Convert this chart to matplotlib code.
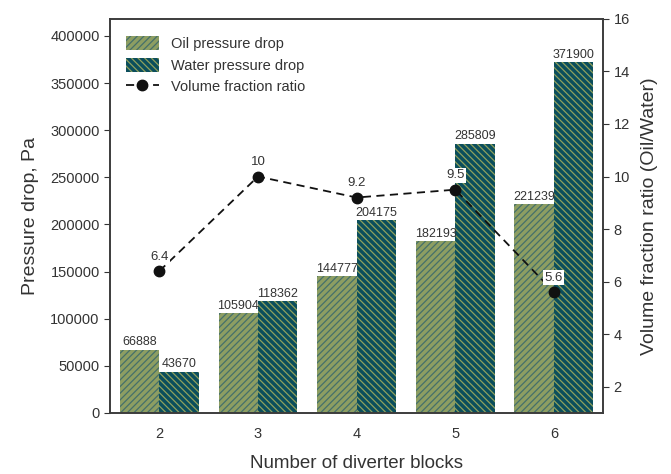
import matplotlib
matplotlib.use("Agg")
import matplotlib.pyplot as plt
import numpy as np

plt.rcParams['font.family'] = ['Liberation Sans', 'DejaVu Sans']
plt.rcParams['hatch.linewidth'] = 0.9

# data
blocks = [2, 3, 4, 5, 6]
oil_dp = [66888, 105904, 144777, 182193, 221239]
water_dp = [43670, 118362, 204175, 285809, 371900]
vol_ratio = [6.4, 10, 9.2, 9.5, 5.6]

oil_fill = '#8d9e62'
oil_hatch = '#45706a'
water_fill = '#0b4e5c'
water_hatch = '#8fa05d'
txt = '#333333'
spine = '#3c3c3c'

fig, ax = plt.subplots(figsize=(6.71, 4.74), dpi=100)
fig.subplots_adjust(left=0.164, right=0.899, top=0.96, bottom=0.129)

x = np.array(blocks, dtype=float)
w = 0.4
b1 = ax.bar(x - w/2, oil_dp, w, color=oil_fill, edgecolor=oil_hatch, linewidth=0,
            hatch='/////', label='Oil pressure drop')
b2 = ax.bar(x + w/2, water_dp, w, color=water_fill, edgecolor=water_hatch, linewidth=0,
            hatch='\\\\\\\\\\', label='Water pressure drop')

for bars, vals in [(b1, oil_dp), (b2, water_dp)]:
    for r, v in zip(bars, vals):
        ax.annotate(str(v), (r.get_x() + r.get_width()/2, v), xytext=(0, 1),
                    textcoords='offset points', ha='center', va='bottom',
                    fontsize=9, color=txt)

ax.set_xlim(1.5, 6.5)
ax.set_ylim(0, 418000)
ax.set_xticks(blocks)
ax.set_yticks(np.arange(0, 400001, 50000))
ax.tick_params(axis='x', length=0, pad=10, labelsize=10.5, colors=txt)
ax.tick_params(axis='y', direction='out', length=4, labelsize=10.5, colors=txt)
ax.set_ylabel('Pressure drop, Pa', fontsize=14, color=txt, labelpad=8)
ax.set_xlabel('Number of diverter blocks', fontsize=13.5, color=txt, labelpad=10)

ax2 = ax.twinx()
ln, = ax2.plot(blocks, vol_ratio, linestyle='--', color='#111111', marker='o',
               markersize=7.5, linewidth=1.3, dashes=(4.5, 3), label='Volume fraction ratio')
for xi, v in zip(blocks, vol_ratio):
    ax2.annotate('%g' % v, (xi, v), xytext=(0, 6), textcoords='offset points',
                 ha='center', va='bottom', fontsize=9.5, color=txt,
                 bbox=dict(boxstyle='square,pad=0.1', fc='white', ec='none'))
ax2.set_ylim(1, 16)
ax2.set_yticks(range(2, 17, 2))
ax2.tick_params(axis='y', direction='out', length=4, labelsize=10.5, colors=txt)
ax2.set_ylabel('Volume fraction ratio (Oil/Water)', fontsize=14, color=txt, labelpad=8)

for a in (ax, ax2):
    for s in a.spines.values():
        s.set_color(spine)
        s.set_linewidth(1.2)

leg = ax.legend([b1, b2, ln], ['Oil pressure drop', 'Water pressure drop', 'Volume fraction ratio'],
                loc='upper left', bbox_to_anchor=(0.005, 0.99), frameon=False, fontsize=10.5,
                handlelength=2.3, handleheight=1.1, labelspacing=0.45, handletextpad=0.8)
for t in leg.get_texts():
    t.set_color(txt)

fig.savefig('out.png', dpi=100)
